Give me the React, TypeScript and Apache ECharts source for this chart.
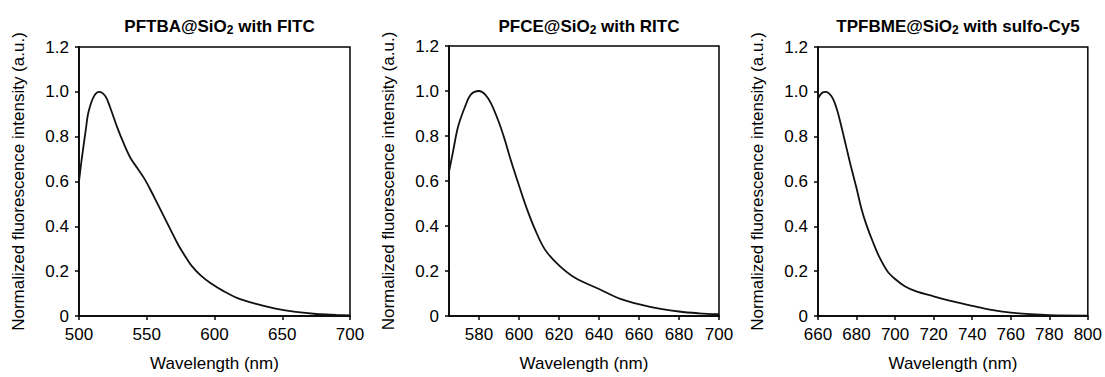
import React, { useEffect, useRef } from "react";
import * as echarts from "echarts";

const titles1 = ["PFTBA@SiO", "2", " with FITC"];
const titles2 = ["PFCE@SiO", "2", " with RITC"];
const titles3 = ["TPFBME@SiO", "2", " with sulfo-Cy5"];

const xTicks1 = [500, 550, 600, 650, 700];
const xTicks2 = [580, 600, 620, 640, 660, 680, 700];
const xTicks3 = [660, 680, 700, 720, 740, 760, 780, 800];

const wl1 = [500, 502, 505, 507, 511, 515, 519.5, 523, 528, 533, 538, 543, 548, 553, 558, 563, 568, 573, 578, 583, 590, 597.5, 607, 617, 630, 645, 660, 675, 690, 700];
const v1 = [0.6, 0.7, 0.83, 0.91, 0.98, 1.0, 0.98, 0.93, 0.845, 0.77, 0.705, 0.66, 0.615, 0.56, 0.5, 0.44, 0.38, 0.32, 0.27, 0.225, 0.18, 0.145, 0.11, 0.08, 0.055, 0.033, 0.018, 0.009, 0.005, 0.003];

const wl2 = [565, 567, 569.5, 573, 576, 580, 583, 586, 590, 593, 596, 600, 604, 608, 613, 620, 628, 640, 651, 665, 680, 690, 700];
const v2 = [0.64, 0.73, 0.84, 0.93, 0.985, 1.0, 0.985, 0.945, 0.86, 0.78, 0.69, 0.58, 0.475, 0.385, 0.295, 0.225, 0.17, 0.12, 0.075, 0.042, 0.02, 0.012, 0.008];

const wl3 = [660, 662, 664, 667, 669.5, 672, 674.5, 677, 680, 682.5, 685, 688.5, 692, 696, 700, 705, 711, 720, 730, 740, 750, 760, 770, 780, 800];
const v3 = [0.97, 0.995, 1.0, 0.98, 0.93, 0.85, 0.76, 0.67, 0.57, 0.48, 0.41, 0.33, 0.26, 0.2, 0.165, 0.133, 0.11, 0.088, 0.065, 0.045, 0.027, 0.015, 0.008, 0.004, 0.002];

const FONT = "'Liberation Sans', Arial, sans-serif";
const FS = 17;

export default function App() {
  const ref = useRef<HTMLDivElement>(null);
  useEffect(() => {
    if (!ref.current) return;
    const chart = echarts.init(ref.current, null, { renderer: "svg" });

    const panels = [
      { left: 79, top: 47, width: 271, height: 270, min: 500, max: 700, ticks: xTicks1, wl: wl1, v: v1, t: titles1 },
      { left: 449, top: 46, width: 270, height: 270, min: 565, max: 700, ticks: xTicks2, wl: wl2, v: v2, t: titles2 },
      { left: 818, top: 47, width: 270, height: 270, min: 660, max: 800, ticks: xTicks3, wl: wl3, v: v3, t: titles3 },
    ];

    const rich = {
      b: { fontFamily: FONT, fontSize: 17, fontWeight: "bold", color: "#000" },
      s: { fontFamily: FONT, fontSize: 12, fontWeight: "bold", color: "#000", verticalAlign: "bottom", padding: [8, 0, 0, 0] },
    };

    const option: any = {
      animation: false,
      backgroundColor: "#fff",
      title: panels.map((p) => ({
        text: `{b|${p.t[0]}}{s|${p.t[1]}}{b|${p.t[2]}}`,
        left: p.left + p.width / 2,
        top: 11,
        textAlign: "center",
        textStyle: { rich },
      })),
      grid: panels.map((p) => ({
        left: p.left,
        top: p.top,
        width: p.width,
        height: p.height,
        show: true,
        borderColor: "#000",
        borderWidth: 1.5,
        backgroundColor: "transparent",
      })),
      xAxis: panels.map((p, i) => ({
        type: "value",
        gridIndex: i,
        min: p.min,
        max: p.max,
        name: "Wavelength (nm)",
        nameLocation: "middle",
        nameGap: 39,
        nameTextStyle: { fontFamily: FONT, fontSize: FS, color: "#000" },
        axisLine: { show: true, onZero: false, lineStyle: { color: "#000", width: 1.5 } },
        axisTick: { show: true, length: 4, inside: false, lineStyle: { color: "#000", width: 1.5 }, customValues: p.ticks },
        axisLabel: { fontFamily: FONT, fontSize: FS, color: "#000", margin: 10, customValues: p.ticks, formatter: (v: number) => String(v) },
        splitLine: { show: false },
      })),
      yAxis: panels.map((p, i) => ({
        type: "value",
        gridIndex: i,
        min: 0,
        max: 1.2,
        interval: 0.2,
        name: "Normalized fluorescence intensity (a.u.)",
        nameLocation: "middle",
        nameGap: 52,
        nameTextStyle: { fontFamily: FONT, fontSize: FS, color: "#000" },
        axisLine: { show: true, lineStyle: { color: "#000", width: 1.5 } },
        axisTick: { show: true, length: 4, inside: false, lineStyle: { color: "#000", width: 1.5 } },
        axisLabel: {
          fontFamily: FONT,
          fontSize: FS,
          color: "#000",
          margin: 10,
          formatter: (v: number) => (Math.abs(v) < 1e-9 ? "0" : v.toFixed(1)),
        },
        splitLine: { show: false },
      })),
      series: panels.map((p, i) => ({
        type: "line",
        xAxisIndex: i,
        yAxisIndex: i,
        data: p.wl.map((w, k) => [w, p.v[k]]),
        smooth: 0.35,
        showSymbol: false,
        lineStyle: { color: "#111", width: 1.8 },
        clip: true,
      })),
    };
    chart.setOption(option);
    return () => chart.dispose();
  }, []);

  return (
    <div
      ref={ref}
      style={{ position: "fixed", left: 0, top: 0, width: 1105, height: 377, background: "#fff" }}
    />
  );
}
